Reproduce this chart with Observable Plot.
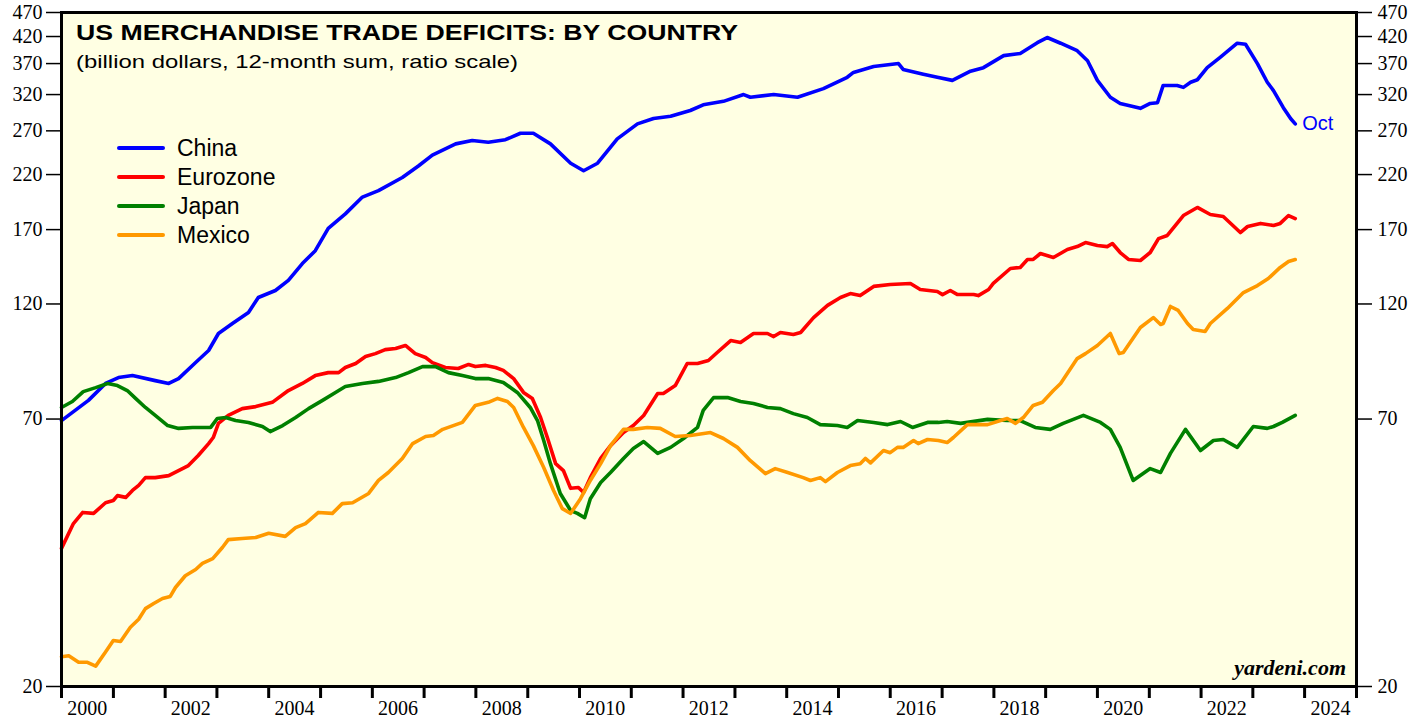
<!DOCTYPE html>
<html><head><meta charset="utf-8">
<script src="https://cdn.jsdelivr.net/npm/d3@7"></script>
<script src="https://cdn.jsdelivr.net/npm/@observablehq/plot@0.6"></script>
<style>html,body{margin:0;padding:0;background:#fff;} svg{display:block}</style>
</head><body><div id="chart"></div>
<script>
const titleText = "US MERCHANDISE TRADE DEFICITS: BY COUNTRY";
const subtitleText = "(billion dollars, 12-month sum, ratio scale)";
const sourceText = "yardeni.com";
const lastLabel = "Oct";
const seriesNames = ["China", "Eurozone", "Japan", "Mexico"];
const seriesColors = ["#0000ff", "#ff0000", "#008000", "#ff9900"];
const yTicks = [20, 70, 120, 170, 220, 270, 320, 370, 420, 470];
const yearTicks = d3.range(2000, 2026);
const yearLabels = d3.range(2000, 2025, 2);

// [decimal year, billion dollars]
const china = [[2000.00,69.5],[2000.52,76.4],[2000.85,82.7],[2001.10,85.0],[2001.37,85.8],[2001.81,83.8],[2002.07,82.7],[2002.26,84.6],[2002.59,91.2],[2002.84,96.5],[2003.03,104.5],[2003.30,109.5],[2003.61,115.3],[2003.80,123.7],[2004.13,127.8],[2004.38,134],[2004.65,145],[2004.90,154],[2005.15,171],[2005.48,183],[2005.81,198],[2006.12,204],[2006.58,217],[2006.89,229],[2007.16,241],[2007.61,254],[2007.93,258],[2008.24,256],[2008.57,259],[2008.86,267],[2009.11,267],[2009.44,254],[2009.83,232],[2010.08,224],[2010.35,232],[2010.73,260],[2011.12,279],[2011.43,286],[2011.76,289],[2012.14,297],[2012.39,305],[2012.78,310],[2013.17,320],[2013.30,316],[2013.75,320],[2014.21,316],[2014.71,329],[2015.17,347],[2015.29,355],[2015.68,365],[2016.16,370],[2016.25,360],[2016.64,352],[2016.91,347],[2017.20,342],[2017.55,357],[2017.80,363],[2018.19,384],[2018.51,388],[2018.84,408],[2019.03,418],[2019.29,407],[2019.61,393],[2019.81,375],[2020.00,342],[2020.25,316],[2020.44,307],[2020.83,300],[2021.02,307],[2021.16,308],[2021.27,334],[2021.54,334],[2021.66,331],[2021.80,339],[2021.93,343],[2022.12,363],[2022.37,381],[2022.70,407],[2022.86,405],[2023.09,370],[2023.28,339],[2023.40,326],[2023.59,301],[2023.73,286],[2023.82,279]];

const eurozone = [[2000.00,38.2],[2000.23,42.9],[2000.41,45.2],[2000.62,45.0],[2000.85,47.3],[2001.00,47.8],[2001.08,48.9],[2001.24,48.5],[2001.37,50.1],[2001.49,51.3],[2001.62,53.2],[2001.81,53.2],[2002.07,53.7],[2002.26,55.0],[2002.45,56.3],[2002.64,59.0],[2002.84,62.4],[2002.93,64.2],[2003.03,68.6],[2003.22,71.2],[2003.49,73.5],[2003.75,74.2],[2004.07,75.7],[2004.38,80.0],[2004.65,82.7],[2004.90,85.8],[2005.15,87.0],[2005.35,87.0],[2005.48,89.1],[2005.68,90.8],[2005.87,93.8],[2006.06,95.1],[2006.25,96.9],[2006.45,97.4],[2006.64,98.8],[2006.83,95.1],[2007.03,93.4],[2007.16,91.2],[2007.41,89.1],[2007.66,88.7],[2007.86,90.4],[2007.99,89.5],[2008.19,90.0],[2008.38,89.1],[2008.53,87.9],[2008.73,84.6],[2008.92,79.3],[2009.09,77.1],[2009.25,70.5],[2009.38,64.2],[2009.54,56.8],[2009.69,55.0],[2009.83,50.6],[2009.98,50.8],[2010.08,49.6],[2010.21,53.2],[2010.41,58.2],[2010.60,61.8],[2010.85,65.7],[2011.04,67.9],[2011.24,71.2],[2011.51,78.9],[2011.62,78.9],[2011.85,81.9],[2012.08,90.8],[2012.28,90.8],[2012.49,92.1],[2012.66,95.6],[2012.92,101.1],[2013.11,100.2],[2013.36,104.5],[2013.63,104.5],[2013.75,103.0],[2013.88,105.0],[2014.13,104.0],[2014.27,105.0],[2014.52,112.6],[2014.79,119.2],[2015.04,123.7],[2015.23,126.0],[2015.42,124.8],[2015.68,130.3],[2016.00,131.5],[2016.39,132.1],[2016.58,128.4],[2016.91,127.2],[2017.01,125.4],[2017.16,127.8],[2017.30,125.4],[2017.61,125.4],[2017.70,124.8],[2017.90,128.4],[2017.99,132.1],[2018.32,141.7],[2018.51,142.4],[2018.65,147.8],[2018.76,147.8],[2018.90,152.0],[2019.15,149.2],[2019.42,154.9],[2019.61,157.0],[2019.77,160.0],[2020.00,157.8],[2020.19,157.0],[2020.29,159.3],[2020.44,152.7],[2020.60,147.8],[2020.83,147.1],[2021.02,152.7],[2021.18,163.0],[2021.35,165.4],[2021.66,181.6],[2021.93,188.6],[2022.18,182.5],[2022.43,180.8],[2022.76,167.7],[2022.90,172.5],[2023.15,175.0],[2023.40,173.3],[2023.53,175.0],[2023.69,181.6],[2023.82,179.0]];

const japan = [[2000.00,73.9],[2000.21,76.0],[2000.42,79.6],[2000.66,81.1],[2000.89,82.7],[2001.08,81.9],[2001.27,80.0],[2001.43,77.1],[2001.62,73.9],[2001.81,71.2],[2002.05,67.9],[2002.26,67.0],[2002.53,67.3],[2002.72,67.3],[2002.88,67.3],[2003.01,70.2],[2003.17,70.5],[2003.36,69.5],[2003.61,68.9],[2003.88,67.6],[2004.03,66.0],[2004.27,67.9],[2004.52,70.5],[2004.77,73.5],[2005.04,76.4],[2005.29,79.3],[2005.48,81.5],[2005.81,82.7],[2006.12,83.5],[2006.45,85.0],[2006.70,87.0],[2006.97,89.5],[2007.22,89.5],[2007.47,87.0],[2007.74,85.8],[2007.99,84.6],[2008.24,84.6],[2008.53,83.1],[2008.80,79.3],[2009.05,73.9],[2009.19,69.5],[2009.31,63.3],[2009.44,56.8],[2009.63,49.4],[2009.83,45.6],[2009.96,45.0],[2010.10,44.1],[2010.21,48.2],[2010.41,52.0],[2010.60,54.5],[2010.85,58.2],[2011.04,61.0],[2011.24,63.0],[2011.51,59.6],[2011.76,61.3],[2012.01,63.9],[2012.28,67.3],[2012.39,72.9],[2012.59,77.4],[2012.86,77.4],[2013.11,76.0],[2013.36,75.3],[2013.63,73.9],[2013.88,73.5],[2014.13,71.8],[2014.40,70.5],[2014.65,68.2],[2014.98,67.9],[2015.17,67.3],[2015.37,69.5],[2015.68,68.9],[2015.95,68.2],[2016.20,69.2],[2016.43,67.3],[2016.72,68.9],[2016.93,68.9],[2017.10,69.2],[2017.36,68.6],[2017.88,69.9],[2018.26,69.5],[2018.51,69.5],[2018.80,67.3],[2019.09,66.7],[2019.34,68.6],[2019.73,71.2],[2020.06,68.9],[2020.25,66.7],[2020.44,61.3],[2020.69,52.5],[2021.02,55.5],[2021.22,54.5],[2021.41,59.6],[2021.70,66.7],[2021.99,60.4],[2022.24,63.3],[2022.43,63.6],[2022.70,61.3],[2023.01,67.6],[2023.28,67.0],[2023.40,67.6],[2023.57,68.9],[2023.82,71.2]];

const mexico = [[2000.00,23.0],[2000.14,23.1],[2000.33,22.4],[2000.50,22.4],[2000.66,22.0],[2000.85,23.5],[2001.00,24.8],[2001.14,24.7],[2001.33,26.4],[2001.49,27.4],[2001.62,28.8],[2001.78,29.5],[2001.95,30.2],[2002.10,30.5],[2002.20,31.8],[2002.39,33.6],[2002.59,34.6],[2002.72,35.6],[2002.92,36.4],[2003.11,38.4],[2003.22,39.8],[2003.49,40.0],[2003.75,40.2],[2004.00,41.0],[2004.32,40.4],[2004.52,42.1],[2004.71,42.9],[2004.96,45.2],[2005.23,45.0],[2005.42,47.1],[2005.62,47.3],[2005.93,49.4],[2006.12,52.5],[2006.31,54.5],[2006.58,58.2],[2006.78,62.4],[2007.03,64.5],[2007.18,64.8],[2007.36,66.7],[2007.74,68.9],[2007.99,74.6],[2008.24,75.7],[2008.42,77.1],[2008.61,76.0],[2008.73,73.9],[2008.92,67.3],[2009.11,61.8],[2009.31,55.8],[2009.50,50.1],[2009.67,46.0],[2009.83,45.0],[2010.02,48.2],[2010.21,52.5],[2010.41,56.8],[2010.60,61.8],[2010.85,66.7],[2011.04,66.7],[2011.31,67.3],[2011.56,67.0],[2011.85,64.5],[2012.14,64.8],[2012.53,65.7],[2012.78,63.9],[2013.05,61.3],[2013.30,57.6],[2013.59,54.2],[2013.78,55.5],[2014.02,54.5],[2014.32,53.2],[2014.46,52.5],[2014.65,53.2],[2014.75,52.2],[2014.98,54.5],[2015.23,56.3],[2015.42,56.8],[2015.52,58.2],[2015.62,57.0],[2015.87,60.4],[2016.00,59.8],[2016.14,61.3],[2016.25,61.3],[2016.45,63.3],[2016.54,62.4],[2016.72,63.6],[2016.93,63.3],[2017.10,62.7],[2017.22,64.2],[2017.49,68.2],[2017.88,68.2],[2018.13,69.5],[2018.26,70.2],[2018.42,68.6],[2018.57,70.5],[2018.76,74.6],[2018.94,75.7],[2019.15,80.0],[2019.29,82.7],[2019.61,92.9],[2019.77,95.1],[2020.00,98.8],[2020.25,104.5],[2020.42,95.1],[2020.50,95.6],[2020.83,107.5],[2021.08,112.6],[2021.22,109.0],[2021.27,109.5],[2021.41,118.6],[2021.56,116.4],[2021.74,109.5],[2021.85,106.5],[2022.08,105.5],[2022.18,109.5],[2022.51,117.5],[2022.82,126.6],[2023.09,130.8],[2023.30,135.2],[2023.53,142.4],[2023.69,146.4],[2023.82,147.8]];

const toDate = t => new Date(Date.UTC(2000, 0, 1) + (t - 2000) * 365.2425 * 864e5);
const rows = [];
[china, eurozone, japan, mexico].forEach((arr, i) =>
  arr.forEach(([t, v]) => rows.push({series: seriesNames[i], date: toDate(t), value: v})));
const chinaLast = [china[china.length - 1]];

const sans = "'Liberation Sans', Arial, Helvetica, sans-serif";
const serif = "'Liberation Serif', 'Times New Roman', serif";

const plot = Plot.plot({
  width: 1424, height: 719,
  marginLeft: 61, marginRight: 68, marginTop: 12, marginBottom: 33,
  style: {background: "#fff", fontFamily: serif, fontSize: "20px", color: "#000", overflow: "visible"},
  x: {type: "utc", domain: [new Date(Date.UTC(2000, 0, 1)), new Date(Date.UTC(2025, 0, 1))], label: null},
  y: {type: "log", domain: [20, 470], label: null},
  color: {domain: seriesNames, range: seriesColors},
  marks: [
    Plot.frame({fill: "#ffffe3", stroke: null}),
    Plot.axisY({anchor: "left", ticks: yTicks, tickFormat: d => String(d), tickSize: 15, tickPadding: 4, strokeWidth: 1.5, label: null, fontSize: 20}),
    Plot.axisY({anchor: "right", ticks: yTicks, tickFormat: d => String(d), tickSize: 15, tickPadding: 6, strokeWidth: 1.5, label: null, fontSize: 20}),
    Plot.axisX({ticks: yearTicks.map(y => new Date(Date.UTC(y, 0, 1))), tickFormat: () => "", tickSize: 12, strokeWidth: 3, label: null}),
    Plot.axisX({ticks: yearLabels.map(y => new Date(Date.UTC(y, 6, 1))), tickFormat: d => String(d.getUTCFullYear()), tickSize: 0, tickPadding: 14, label: null, fontSize: 20}),
    Plot.line(rows, {x: "date", y: "value", z: "series", stroke: "series", strokeWidth: 3.6, strokeLinejoin: "round"}),
    Plot.text(chinaLast, {x: d => toDate(d[0]), y: d => d[1], text: () => lastLabel, dx: 7, textAnchor: "start", fill: "#0000ff", fontFamily: sans, fontSize: 20}),
    Plot.frame({stroke: "#000", strokeWidth: 3})
  ]
});

const svg = d3.select(plot);
const over = svg.append("g").attr("text-anchor", "start");
over.append("text").attr("x", 76).attr("y", 40).text(titleText)
  .attr("text-anchor", "start")
  .attr("font-family", sans).attr("font-weight", "bold").attr("font-size", 22)
  .attr("textLength", 662).attr("lengthAdjust", "spacingAndGlyphs").attr("fill", "#000");
over.append("text").attr("x", 76).attr("y", 68).text(subtitleText)
  .attr("text-anchor", "start")
  .attr("font-family", sans).attr("font-size", 19)
  .attr("textLength", 442).attr("lengthAdjust", "spacingAndGlyphs").attr("fill", "#000");
seriesNames.forEach((name, i) => {
  const y = 148 + i * 29;
  over.append("line").attr("x1", 119).attr("x2", 163).attr("y1", y).attr("y2", y)
    .attr("stroke", seriesColors[i]).attr("stroke-width", 4).attr("stroke-linecap", "round");
  over.append("text").attr("x", 177).attr("y", y + 8).text(name)
    .attr("text-anchor", "start")
    .attr("font-family", sans).attr("font-size", 23).attr("fill", "#000");
});
over.append("text").attr("x", 1346).attr("y", 675).text(sourceText)
  .attr("text-anchor", "end").attr("font-family", serif).attr("font-weight", "bold")
  .attr("font-style", "italic").attr("font-size", 22).attr("fill", "#000");

document.getElementById("chart").appendChild(plot);
</script>
</body></html>
